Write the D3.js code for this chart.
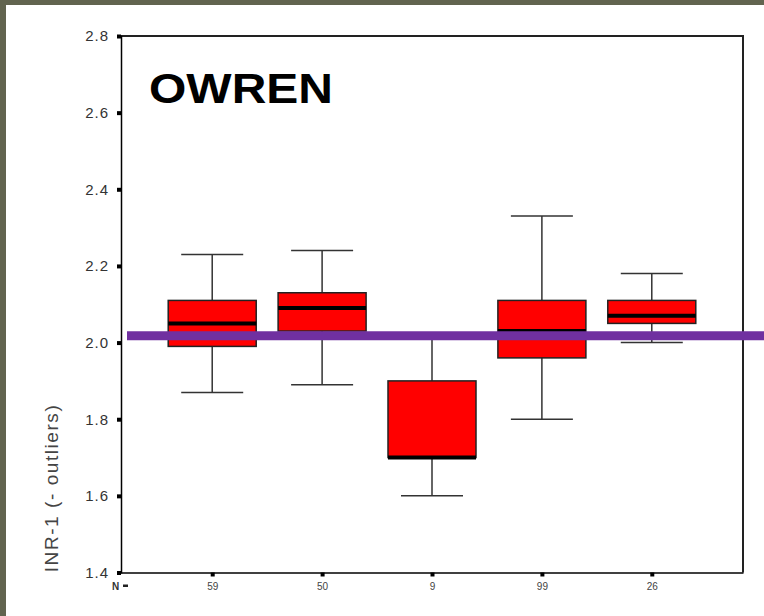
<!DOCTYPE html>
<html>
<head>
<meta charset="utf-8">
<script src="https://cdn.jsdelivr.net/npm/d3@7"></script>
<style>
  html, body { margin: 0; padding: 0; background: #62644f; }
  svg { display: block; }
  text { font-family: "Liberation Sans", Arial, sans-serif; }
</style>
</head>
<body>
<svg width="764" height="616"></svg>
<script>
// N per group (also the x-axis labels)
const groups = ['59', '50', '9', '99', '26'];
const whiskerHigh = [2.23, 2.24, 2.01, 2.33, 2.18];
const q3 = [2.11, 2.13, 1.90, 2.11, 2.11];
const median = [2.05, 2.09, 1.70, 2.03, 2.07];
const q1 = [1.99, 2.03, 1.70, 1.96, 2.05];
const whiskerLow = [1.87, 1.89, 1.60, 1.80, 2.00];
const yTicks = [1.4, 1.6, 1.8, 2.0, 2.2, 2.4, 2.6, 2.8];
const refValue = 2.018;

const svg = d3.select('svg');
const plot = { left: 121, right: 743, top: 36, bottom: 572.5 };

// white page area inside the olive border
svg.append('rect').attr('x', 6).attr('y', 5).attr('width', 758).attr('height', 611).attr('fill', '#fff');

const y = d3.scaleLinear().domain([1.4, 2.8]).range([plot.bottom, plot.top]);
const x = d3.scalePoint().domain(groups).range([plot.left, plot.right]).padding(0.83);
const boxW = 88, capW = 62;

const boxes = groups.map((g, i) => ({
  g, hi: whiskerHigh[i], q3: q3[i], med: median[i], q1: q1[i], lo: whiskerLow[i]
}));

// frame top / right
svg.append('path')
  .attr('d', `M${plot.left},${plot.top}H${plot.right}V${plot.bottom}`)
  .attr('fill', 'none').attr('stroke', '#222').attr('stroke-width', 2);

// y axis
const yAxis = svg.append('g')
  .attr('transform', `translate(${plot.left},0)`)
  .call(d3.axisLeft(y).tickValues(yTicks).tickFormat(d3.format('.1f')).tickSize(4).tickPadding(8));
yAxis.select('.domain').attr('stroke', '#000').attr('stroke-width', 1.5);
yAxis.selectAll('.tick line').attr('stroke', '#000').attr('stroke-width', 4);
yAxis.selectAll('.tick text').attr('fill', '#333').style('font-size', '15px').style('letter-spacing', '1px');

// x axis
const xAxis = svg.append('g')
  .attr('transform', `translate(0,${plot.bottom})`)
  .call(d3.axisBottom(x).tickSize(4).tickPadding(6).tickSizeOuter(0));
xAxis.select('.domain').attr('stroke', '#000').attr('stroke-width', 1.5);
xAxis.selectAll('.tick line').attr('stroke', '#000').attr('stroke-width', 4);
xAxis.selectAll('.tick text').attr('fill', '#444').style('font-size', '10px');

svg.append('text')
  .attr('x', 112).attr('y', plot.bottom + 17)
  .attr('fill', '#333').style('font-size', '10px').style('font-weight', 'bold').text('N');
svg.append('rect')
  .attr('x', 123).attr('y', plot.bottom + 12).attr('width', 5).attr('height', 2.5).attr('fill', '#222');

// axis title
svg.append('text')
  .attr('transform', `translate(58,${(plot.bottom + 405) / 2}) rotate(-90)`)
  .attr('text-anchor', 'middle')
  .attr('fill', '#444').style('font-size', '19px')
  .attr('textLength', 167).attr('lengthAdjust', 'spacing')
  .text('INR-1 (- outliers)');

// box plots
const bx = svg.append('g').selectAll('g').data(boxes).join('g');

bx.append('line')
  .attr('x1', d => x(d.g)).attr('x2', d => x(d.g))
  .attr('y1', d => y(d.hi)).attr('y2', d => y(d.lo))
  .attr('stroke', '#333').attr('stroke-width', 1.5);
bx.append('line')
  .attr('x1', d => x(d.g) - capW / 2).attr('x2', d => x(d.g) + capW / 2)
  .attr('y1', d => y(d.hi)).attr('y2', d => y(d.hi))
  .attr('stroke', '#333').attr('stroke-width', 1.5);
bx.append('line')
  .attr('x1', d => x(d.g) - capW / 2).attr('x2', d => x(d.g) + capW / 2)
  .attr('y1', d => y(d.lo)).attr('y2', d => y(d.lo))
  .attr('stroke', '#333').attr('stroke-width', 1.5);
bx.append('rect')
  .attr('x', d => x(d.g) - boxW / 2).attr('width', boxW)
  .attr('y', d => y(d.q3)).attr('height', d => y(d.q1) - y(d.q3))
  .attr('fill', '#ff0000').attr('stroke', '#222').attr('stroke-width', 1.5);
bx.append('line')
  .attr('x1', d => x(d.g) - boxW / 2).attr('x2', d => x(d.g) + boxW / 2)
  .attr('y1', d => y(d.med)).attr('y2', d => y(d.med))
  .attr('stroke', '#000').attr('stroke-width', 4);

// reference line
svg.append('line')
  .attr('x1', 127).attr('x2', 764)
  .attr('y1', y(refValue)).attr('y2', y(refValue))
  .attr('stroke', '#7030a0').attr('stroke-width', 9);

// title
svg.append('text')
  .attr('x', 149).attr('y', 103)
  .attr('fill', '#000').style('font-size', '42px').style('font-weight', 'bold')
  .attr('textLength', 184).attr('lengthAdjust', 'spacingAndGlyphs')
  .text('OWREN');
</script>
</body>
</html>
